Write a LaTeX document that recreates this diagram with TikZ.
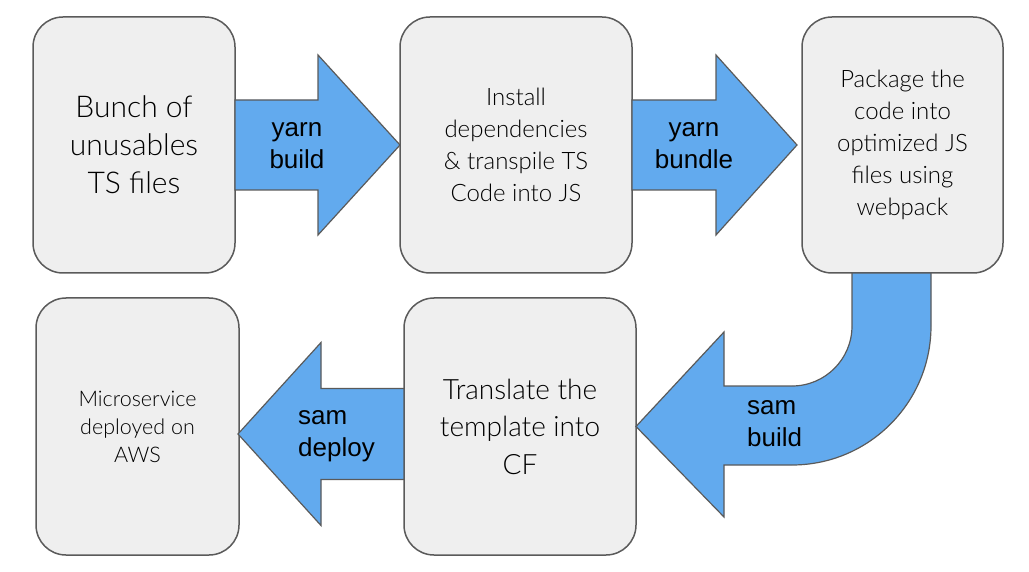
\documentclass[tikz,border=0pt]{standalone}
\usepackage{fontspec}
\setmainfont{Lato Light}
\newfontfamily\arialfont{Liberation Sans}
\usetikzlibrary{positioning, calc}
\definecolor{boxgray}{HTML}{EFEFEF}
\definecolor{edgegray}{HTML}{5A5A5A}
\definecolor{arrowblue}{HTML}{62AAEE}
\tikzset{
  stage/.style={draw=edgegray, line width=1.5pt, fill=boxgray, rounded corners=30pt,
    minimum width=202pt, minimum height=256pt, inner sep=0pt, outer sep=0pt,
    align=center, text=black},
  blockarrow/.style={draw=edgegray, line width=1.2pt, fill=arrowblue, line join=miter},
  steplabel/.style={font=\arialfont\fontsize{26}{32}\selectfont, inner sep=0pt},
}

\begin{document}
\begin{tikzpicture}[x=1pt, y=-1pt]
    \useasboundingbox (0,0) rectangle (1029,572);

    \node[stage, font=\fontsize{30}{38}\selectfont] (b1) at (134,145) {Bunch of\\unusables\\TS files};
    \node[stage, minimum width=232pt, font=\fontsize{24}{32}\selectfont] (b2) at (516,145)
        {Install\\dependencies\\\& transpile TS\\Code into JS};
    \node[stage, minimum width=201pt, font=\fontsize{24}{32}\selectfont] (b3) at (902.5,145)
        {Package the\\code into\\optimized JS\\files using\\webpack};
    \node[stage, minimum width=203pt, minimum height=257pt, font=\fontsize{21.5}{28}\selectfont] (b4) at (137.5,426.5)
        {Microservice\\deployed on\\AWS};
    \node[stage, minimum width=232pt, minimum height=257pt, font=\fontsize{28}{37.5}\selectfont] (b5) at (520,426.5)
        {Translate the\\template into\\CF};

    \draw[blockarrow] (b1.east) -- ++(0,-45) -- ++(83,0) -- ++(0,-45) -- (b2.west)
        -- ++(-82,90) -- ++(0,-45) -- ++(-83,0) -- cycle;
    \draw[blockarrow] (b2.east) -- ++(0,-45) -- ++(84,0) -- ++(0,-45) -- ++(81,90)
        -- ++(-81,90) -- ++(0,-45) -- ++(-84,0) -- cycle;
    \draw[blockarrow] ($(b3.south)+(-50.5,0)$) -- ++(0,53) arc[start angle=0, end angle=90, radius=60]
        -- (724,386) -- (724,332) -- (b5.east) -- (724,517) -- (724,465) -- (792,465)
        arc[start angle=90, end angle=0, radius=139] -- ($(b3.south)+(28.5,0)$) -- cycle;
    \draw[blockarrow] ($(b5.west)+(0,-38)$) -- ++(-83,0) -- ++(0,-46) -- ++(-83,91.5)
        -- ++(83,91.5) -- ++(0,-46) -- ++(83,0) -- cycle;

    \node[steplabel, align=center] (yb) at (297,146) {yarn\\build};
    \node[steplabel, align=center] (yn) at (694,146) {yarn\\bundle};
    \node[steplabel, align=left, anchor=west] (sb) at (747,424) {sam\\build};
    \node[steplabel, align=left, anchor=west] (sd) at (298,436) {sam\\deploy};
\end{tikzpicture}
\end{document}
